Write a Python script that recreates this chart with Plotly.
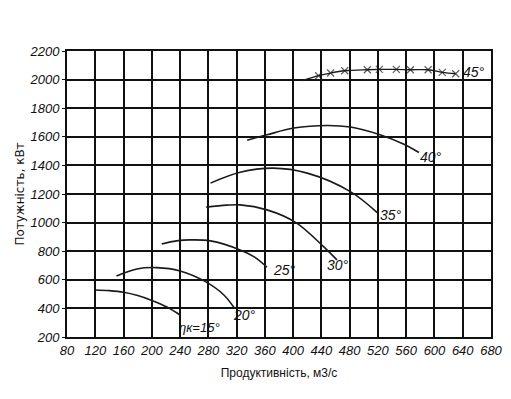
import plotly.graph_objects as go

# Data
x_ticks = list(range(80, 681, 40))
y_ticks = list(range(200, 2201, 200))

a15_x = [120, 140, 160, 180, 200, 222, 240]
a15_y = [529, 524, 513, 490, 456, 408, 354]

a20_x = [150, 179, 207, 240, 276, 302, 317]
a20_y = [627, 676, 685, 662, 587, 494, 401]

a25_x = [214, 235, 254, 283, 325, 345, 363]
a25_y = [851, 872, 879, 872, 809, 760, 688]

a30_x = [277, 306, 325, 363, 404, 443, 462]
a30_y = [1108, 1122, 1124, 1089, 1000, 832, 739]

a35_x = [283, 325, 372, 420, 481, 519]
a35_y = [1276, 1352, 1381, 1346, 1217, 1070]

a40_x = [335, 363, 401, 448, 481, 523, 556, 578]
a40_y = [1576, 1614, 1661, 1679, 1668, 1614, 1549, 1490]

a45_x = [413, 436, 453, 473, 505, 522, 546, 566, 591, 611, 630]
a45_y = [1992, 2027, 2046, 2062, 2069, 2071, 2071, 2069, 2069, 2051, 2041]

labels = ["ηк=15°", "20°", "25°", "30°", "35°", "40°", "45°"]
label_x = [238, 315, 372, 448, 523, 580, 641]
label_y = [263, 354, 669, 704, 1054, 1460, 2055]
label_size = [13, 14, 14, 14, 14, 14, 14]

curve_color = "#1a1a1a"
fig = go.Figure()
for xs, ys in [(a15_x, a15_y), (a20_x, a20_y), (a25_x, a25_y), (a30_x, a30_y),
               (a35_x, a35_y), (a40_x, a40_y)]:
    fig.add_trace(go.Scatter(x=xs, y=ys, mode="lines", line=dict(color=curve_color, width=1.6, shape="spline"),
                             showlegend=False, hoverinfo="skip"))

fig.add_trace(go.Scatter(x=a45_x, y=a45_y, mode="lines+markers",
                         line=dict(color=curve_color, width=1.3, shape="spline"),
                         marker=dict(symbol="x-thin", size=[0] + [7] * (len(a45_x) - 1),
                                     line=dict(color=curve_color, width=1.2)),
                         showlegend=False, hoverinfo="skip"))

tick_font = dict(family="Liberation Sans, Arial, sans-serif", size=13,
                 color="#111", style="italic")

for t, lx, ly, ls in zip(labels, label_x, label_y, label_size):
    fig.add_annotation(x=lx, y=ly, text=t, showarrow=False, xanchor="left", yanchor="middle",
                       font=dict(tick_font, size=ls), xshift=-2)

# page body has an 8px margin, so the figure is sized and offset to compensate
fig.update_layout(
    width=503, height=391,
    margin=dict(l=59, r=20, t=43, b=62),
    paper_bgcolor="white", plot_bgcolor="white",
    xaxis=dict(range=[80, 680], tickvals=x_ticks, ticktext=[str(v) for v in x_ticks],
               showgrid=True, gridcolor="#111", gridwidth=1.8, automargin=False,
               showline=True, linecolor="#111", linewidth=2, mirror=True,
               ticks="", tickfont=tick_font, zeroline=False,
               title=dict(text="Продуктивність, м3/с", standoff=12,
                          font=dict(family="Liberation Sans, Arial, sans-serif", size=12, color="#111"))),
    yaxis=dict(range=[200, 2200], tickvals=y_ticks, ticktext=[str(v) for v in y_ticks],
               showgrid=True, gridcolor="#111", gridwidth=1.8, automargin=False,
               showline=True, linecolor="#111", linewidth=2, mirror=True,
               ticks="outside", ticklen=3, tickcolor="#111", tickfont=tick_font, zeroline=False,
               title=dict(text="Потужність, кВт", standoff=2,
                          font=dict(family="DejaVu Sans, sans-serif", size=12, color="#111"))),
)

fig.write_html("out.html")
